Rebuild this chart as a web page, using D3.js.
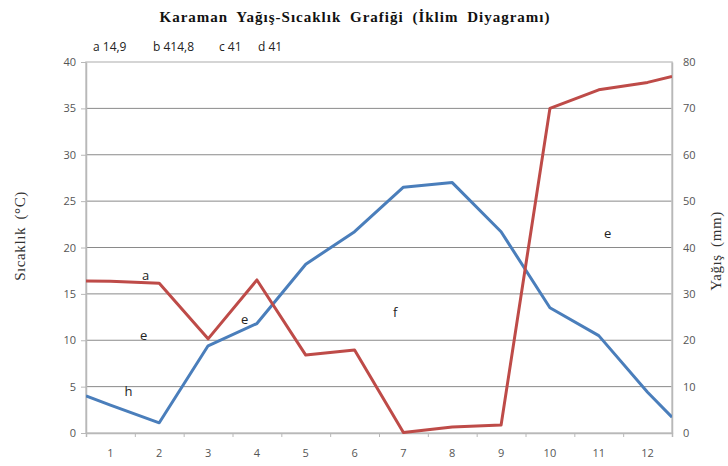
<!DOCTYPE html>
<html>
<head>
<meta charset="utf-8">
<script src="https://cdn.jsdelivr.net/npm/d3@7"></script>
<style>
  body { margin: 0; background: #fff; }
  svg { display: block; }
</style>
</head>
<body>
<svg id="drawing_region"></svg>
<script>
// months as printed on the x axis
const months = [1, 2, 3, 4, 5, 6, 7, 8, 9, 10, 11, 12];
// temperature (°C) per month, left axis
const sicaklik = [3.0, 1.1, 9.4, 11.8, 18.2, 21.7, 26.5, 27.0, 21.7, 13.5, 10.5, 4.4];
// precipitation (mm) per month, right axis
const yagis = [32.7, 32.3, 20.3, 33.0, 16.8, 17.9, 0.1, 1.3, 1.7, 70.0, 74.0, 75.6];
// where the lines meet the left and right plot edges
const sicaklikEdge = [4.0, 1.7];
const yagisEdge = [32.8, 76.9];
const leftTicks = [0, 5, 10, 15, 20, 25, 30, 35, 40];
const rightTicks = [0, 10, 20, 30, 40, 50, 60, 70, 80];
const headerNotes = [
    { t: 'a 14,9', x: 93 }, { t: 'b 414,8', x: 153 }, { t: 'c 41', x: 219 }, { t: 'd 41', x: 258 }
];
const plotNotes = [
    { t: 'a', m: 1.72, v: 16.5 }, { t: 'e', m: 1.68, v: 10.0 }, { t: 'e', m: 3.75, v: 11.8 },
    { t: 'h', m: 1.37, v: 4.0 }, { t: 'f', m: 6.83, v: 12.5 }, { t: 'e', m: 11.18, v: 21.0 }
];

const config = {
    width: 728,
    height: 466,
    margin: { top: 62, right: 56, bottom: 33, left: 86 }
};

const svg = d3.select('#drawing_region')
    .attr('width', config.width)
    .attr('height', config.height);

const inner_width = config.width - config.margin.left - config.margin.right;
const inner_height = config.height - config.margin.top - config.margin.bottom;

const chart = svg.append('g')
    .attr('transform', `translate(${config.margin.left},${config.margin.top})`);

// months sit in the middle of each band: domain 0.5..12.5
const xscale = d3.scaleLinear().domain([0.5, 12.5]).range([0, inner_width]);
const yleft = d3.scaleLinear().domain([0, 40]).range([inner_height, 0]);
const yright = d3.scaleLinear().domain([0, 80]).range([inner_height, 0]);

// grid lines
chart.append('g')
    .selectAll('line')
    .data(leftTicks.slice(1, -1))
    .enter()
    .append('line')
    .attr('x1', 0).attr('x2', inner_width)
    .attr('y1', d => yleft(d)).attr('y2', d => yleft(d))
    .attr('stroke', '#8a8a8a')
    .attr('stroke-width', 1);

// plot frame
chart.append('rect')
    .attr('width', inner_width)
    .attr('height', inner_height)
    .attr('fill', 'none')
    .attr('stroke', '#c8c8c8')
    .attr('stroke-width', 1.5);

const yaxisL = d3.axisLeft(yleft).tickValues(leftTicks).tickSize(5).tickSizeOuter(0);
const yaxisR = d3.axisRight(yright).tickValues(rightTicks).tickSize(0).tickSizeOuter(0).tickPadding(11);
const xaxis = d3.axisBottom(xscale)
    .tickValues(d3.range(1.5, 12.5, 1))
    .tickSize(4)
    .tickFormat('');

function styleAxis(g) {
    g.select('.domain').attr('stroke', '#b8b8b8').attr('stroke-width', 1.5);
    g.selectAll('.tick line').attr('stroke', '#b8b8b8');
    g.selectAll('.tick text')
        .attr('fill', '#555')
        .style('font-family', '"Open Sans", Arial, sans-serif')
        .style('font-size', '11px');
}

chart.append('g').call(yaxisL).call(styleAxis)
    .selectAll('.tick text').attr('x', -10);
chart.append('g').attr('transform', `translate(${inner_width},0)`).call(yaxisR).call(styleAxis);
chart.append('g').attr('transform', `translate(0,${inner_height})`).call(xaxis).call(styleAxis);

// month labels
chart.append('g')
    .selectAll('text')
    .data(months)
    .enter()
    .append('text')
    .attr('x', d => xscale(d))
    .attr('y', inner_height + 24)
    .attr('text-anchor', 'middle')
    .attr('fill', '#555')
    .style('font-family', '"Open Sans", Arial, sans-serif')
    .style('font-size', '11px')
    .text(d => d);

// lines, clipped to the plot area
svg.append('defs').append('clipPath').attr('id', 'plotclip')
    .append('rect').attr('width', inner_width).attr('height', inner_height + 2).attr('y', -1);

function series(vals, edge) {
    return [[0.5, edge[0]]]
        .concat(months.map((m, i) => [m, vals[i]]))
        .concat([[12.5, edge[1]]]);
}

const lineL = d3.line().x(d => xscale(d[0])).y(d => yleft(d[1]));
const lineR = d3.line().x(d => xscale(d[0])).y(d => yright(d[1]));

const lines = chart.append('g').attr('clip-path', 'url(#plotclip)');
lines.append('path')
    .attr('d', lineL(series(sicaklik, sicaklikEdge)))
    .attr('stroke', '#4a7ebb')
    .attr('stroke-width', 3)
    .attr('stroke-linejoin', 'round')
    .attr('fill', 'none');
lines.append('path')
    .attr('d', lineR(series(yagis, yagisEdge)))
    .attr('stroke', '#be4b48')
    .attr('stroke-width', 3)
    .attr('stroke-linejoin', 'round')
    .attr('fill', 'none');

// letters inside the plot
chart.append('g')
    .selectAll('text')
    .data(plotNotes)
    .enter()
    .append('text')
    .attr('x', d => xscale(d.m))
    .attr('y', d => yleft(d.v))
    .attr('text-anchor', 'middle')
    .attr('fill', '#222')
    .style('font-family', '"Open Sans", Arial, sans-serif')
    .style('font-size', '13px')
    .text(d => d.t);

// title
svg.append('text')
    .attr('x', 355)
    .attr('y', 22)
    .attr('text-anchor', 'middle')
    .attr('fill', '#111')
    .style('font-family', '"Liberation Serif", "Times New Roman", serif')
    .style('font-weight', 'bold')
    .style('font-size', '15px')
    .style('letter-spacing', '1px')
    .style('word-spacing', '4px')
    .text('Karaman Yağış-Sıcaklık Grafiği (İklim Diyagramı)');

svg.append('g')
    .selectAll('text')
    .data(headerNotes)
    .enter()
    .append('text')
    .attr('x', d => d.x)
    .attr('y', 51)
    .attr('fill', '#222')
    .style('font-family', '"Open Sans", Arial, sans-serif')
    .style('font-size', '12px')
    .text(d => d.t);

// axis titles
svg.append('text')
    .attr('transform', 'translate(25,236) rotate(-90)')
    .attr('text-anchor', 'middle')
    .attr('fill', '#333')
    .style('font-family', '"Liberation Serif", "Times New Roman", serif')
    .style('font-size', '15px')
    .style('letter-spacing', '0.6px')
    .style('word-spacing', '3px')
    .text('Sıcaklık (°C)');

svg.append('text')
    .attr('transform', 'translate(721,251) rotate(-90)')
    .attr('text-anchor', 'middle')
    .attr('fill', '#333')
    .style('font-family', '"Liberation Serif", "Times New Roman", serif')
    .style('font-size', '15px')
    .style('letter-spacing', '0.6px')
    .style('word-spacing', '3px')
    .text('Yağış (mm)');
</script>
</body>
</html>
